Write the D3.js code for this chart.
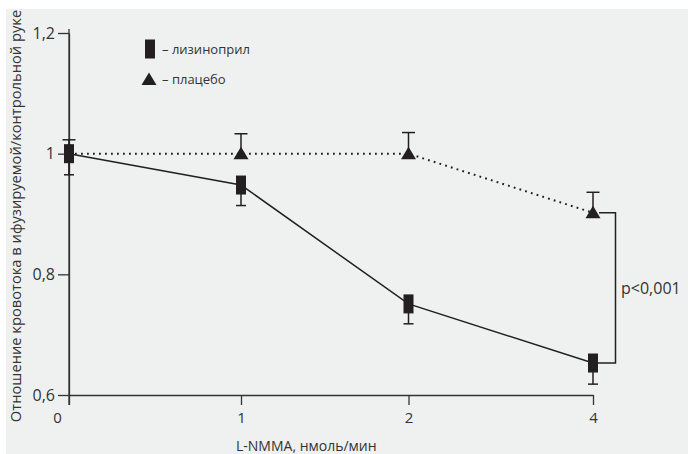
<!DOCTYPE html>
<html>
<head>
<meta charset="utf-8">
<script src="https://cdn.jsdelivr.net/npm/d3@7"></script>
<style>
  html, body { margin: 0; padding: 0; background: #ffffff; }
  svg text { font-family: "Open Sans", "Noto Sans", sans-serif; fill: #333333; }
</style>
</head>
<body>
<div id="chart"></div>
<script>
// doses of L-NMMA (x) and flow ratio values (y)
const doses = [0, 1, 2, 4];
const doseLabels = ['0', '1', '2', '4'];
const lisinopril = [1.0, 0.948, 0.751, 0.653];
const lisinoprilErr = [0.035, 0.034, 0.033, 0.035];
const placebo = [1.0, 1.0, 1.0, 0.902];
const placeboErr = [0.023, 0.033, 0.035, 0.034];
const yTicks = [0.6, 0.8, 1, 1.2];
const yTickLabels = ['0,6', '0,8', '1', '1,2'];
const legendLabels = ['– лизиноприл', '– плацебо'];
const pLabel = 'p<0,001';

const ink = '#231f20';

// set the dimensions and margins of the graph
const margin = {top: 33, right: 95, bottom: 59, left: 69},
  width = 688 - margin.left - margin.right,
  height = 454 - margin.top - margin.bottom;

const root = d3.select('#chart')
  .append('svg')
  .attr('width', 688)
  .attr('height', 454);

// grey panel
root.append('rect')
  .attr('x', 6).attr('y', 9)
  .attr('width', 682).attr('height', 445)
  .style('fill', '#eef1f0');

const svg = root.append('g')
  .attr('transform', 'translate(' + margin.left + ',' + margin.top + ')');

// x: doses are not evenly spaced on the picture, so piecewise scale
const x = d3.scaleLinear()
  .domain(doses)
  .range([0, 172, 339.5, 524]);

const y = d3.scaleLinear()
  .domain([0.6, 1.2])
  .range([height, 0]);

// X axis
const xAxis = svg.append('g')
  .attr('transform', 'translate(0,' + height + ')')
  .call(d3.axisBottom(x)
    .tickValues(doses)
    .tickFormat((d, i) => doseLabels[i])
    .tickSize(10)
    .tickSizeOuter(0)
    .tickPadding(4));
xAxis.selectAll('text')
  .style('font-size', '15px')
  .attr('dx', (d) => d === 0 ? -12 : 0)
  .attr('dy', '0.9em');

// Y axis
const yAxis = svg.append('g')
  .call(d3.axisLeft(y)
    .tickValues(yTicks)
    .tickFormat((d, i) => yTickLabels[i])
    .tickSize(11)
    .tickSizeOuter(0)
    .tickPadding(3));
yAxis.selectAll('text')
  .style('font-size', '16px');

root.selectAll('.domain, .tick line')
  .style('stroke', '#333333')
  .style('stroke-width', 1.3);

// axis line runs a bit past both ends
svg.append('line')
  .attr('x1', 0).attr('x2', 0)
  .attr('y1', -4).attr('y2', height + 10)
  .style('stroke', '#333333')
  .style('stroke-width', 1.3);

// lines
const line = d3.line()
  .x((d, i) => x(doses[i]))
  .y((d) => y(d));

svg.append('path')
  .datum(placebo)
  .attr('d', line)
  .style('fill', 'none')
  .style('stroke', ink)
  .style('stroke-width', 2)
  .style('stroke-dasharray', '1.8,4.2');

svg.append('path')
  .datum(lisinopril)
  .attr('d', line)
  .style('fill', 'none')
  .style('stroke', ink)
  .style('stroke-width', 1.5);

// bracket between the two series at the last dose
const last = doses.length - 1;
svg.append('path')
  .attr('d', 'M' + (x(doses[last]) + 6) + ',' + y(placebo[last]) +
    'H' + (x(doses[last]) + 22.5) +
    'V' + y(lisinopril[last]) +
    'H' + (x(doses[last]) + 4))
  .style('fill', 'none')
  .style('stroke', ink)
  .style('stroke-width', 1.5);

svg.append('text')
  .attr('x', x(doses[last]) + 28)
  .attr('y', (y(placebo[last]) + y(lisinopril[last])) / 2)
  .attr('dy', '0.35em')
  .style('font-size', '16px')
  .text(pLabel);

// error bars: placebo upward, lisinopril downward
function errorBars(vals, errs, sign, capW) {
  const g = svg.append('g')
    .style('stroke', ink)
    .style('stroke-width', 1.5);
  g.selectAll('line.stem')
    .data(vals)
    .enter()
    .append('line')
    .attr('x1', (d, i) => x(doses[i]))
    .attr('x2', (d, i) => x(doses[i]))
    .attr('y1', (d) => y(d))
    .attr('y2', (d, i) => y(d + sign * errs[i]));
  g.selectAll('line.cap')
    .data(vals)
    .enter()
    .append('line')
    .attr('x1', (d, i) => x(doses[i]) - capW / 2)
    .attr('x2', (d, i) => x(doses[i]) + capW / 2)
    .attr('y1', (d, i) => y(d + sign * errs[i]))
    .attr('y2', (d, i) => y(d + sign * errs[i]));
}
errorBars(placebo, placeboErr, 1, 13);
errorBars(lisinopril, lisinoprilErr, -1, 10);

// markers (at dose 0 the triangle sits under the square, only the square shows)
const tri = (cx, cy) => 'M' + cx + ',' + (cy - 7) +
  'L' + (cx + 7.5) + ',' + (cy + 5.5) +
  'L' + (cx - 7.5) + ',' + (cy + 5.5) + 'Z';

svg.selectAll('path.tri')
  .data(placebo.map((v, i) => ({v: v, dose: doses[i]})).filter((d) => d.dose > 0))
  .enter()
  .append('path')
  .attr('d', (d) => tri(x(d.dose), y(d.v)))
  .style('fill', ink);

svg.selectAll('rect.sq')
  .data(lisinopril)
  .enter()
  .append('rect')
  .attr('x', (d, i) => x(doses[i]) - 5)
  .attr('y', (d) => y(d) - 9.5)
  .attr('width', 10)
  .attr('height', 19)
  .style('fill', ink);

// legend
root.append('rect')
  .attr('x', 145).attr('y', 39.5)
  .attr('width', 10).attr('height', 19)
  .style('fill', ink);
root.append('path')
  .attr('d', tri(149, 79.5))
  .style('fill', ink);
root.selectAll('text.legend')
  .data(legendLabels)
  .enter()
  .append('text')
  .attr('x', 162)
  .attr('y', (d, i) => 49 + i * 30)
  .attr('dy', '0.35em')
  .style('font-size', '13px')
  .text((d) => d);

// axis titles
root.append('text')
  .attr('x', 236)
  .attr('y', 446)
  .attr('dy', '0.35em')
  .style('font-size', '14px')
  .text('L-NMMA, нмоль/мин');

root.append('text')
  .attr('transform', 'translate(16,216) rotate(-90)')
  .attr('text-anchor', 'middle')
  .attr('dy', '0.35em')
  .style('font-size', '14.7px')
  .text('Отношение кровотока в ифузируемой/контрольной руке');
</script>
</body>
</html>
